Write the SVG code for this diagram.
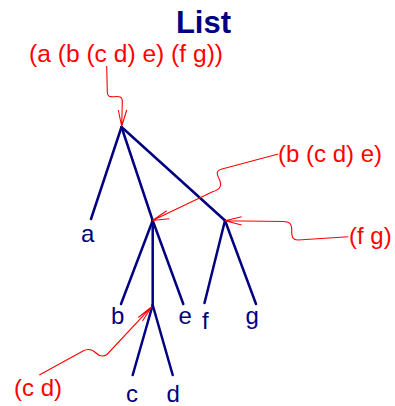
<svg xmlns="http://www.w3.org/2000/svg" width="395" height="406" viewBox="0 0 395 406">
  <style>
    .edge { stroke: #000080; stroke-width: 2.5; fill: none; stroke-linecap: round; }
    .ptr { stroke: #ff0000; stroke-width: 1.1; fill: none; }
    .lbl { font-family: "Liberation Sans", Arial, sans-serif; font-size: 24px; fill: #000080; }
    .red { font-family: "Liberation Sans", Arial, sans-serif; font-size: 24px; fill: #ff0000; }
    .title { font-family: "Liberation Sans", Arial, sans-serif; font-size: 31px; font-weight: bold; fill: #000080; }
  </style>
  <rect width="395" height="406" fill="#ffffff"/>
  <g id="title">
    <text class="title" x="203.5" y="33" text-anchor="middle">List</text>
  </g>
  <g id="connectors">
    <line class="edge" x1="121.5" y1="127" x2="91" y2="219"/>
    <line class="edge" x1="121.5" y1="127" x2="152.7" y2="220.5"/>
    <line class="edge" x1="121.5" y1="127" x2="225" y2="220.5"/>
    <line class="edge" x1="152.7" y1="220.5" x2="121" y2="304"/>
    <line class="edge" x1="152.7" y1="220.5" x2="152.7" y2="305"/>
    <line class="edge" x1="152.7" y1="220.5" x2="183.3" y2="304"/>
    <line class="edge" x1="152.7" y1="305" x2="132.7" y2="375"/>
    <line class="edge" x1="152.7" y1="305" x2="172.7" y2="375"/>
    <line class="edge" x1="225" y1="220.5" x2="204.5" y2="303"/>
    <line class="edge" x1="225" y1="220.5" x2="256" y2="304"/>
    <path class="ptr" d="M106.7,66 L107.3,92 C107.5,97 110,97 114,96.7 C119,96.3 122.5,96 122.3,102 L121.7,126.5 M118.3,110 L121.7,126.5 L126.7,110"/>
    <path class="ptr" d="M278.3,154 L222,169 C214,171 218,176 220,181 C222,187 219,190 212,192 L152.5,220.5 M166.7,210.7 L152.5,220.5 L169.3,218.7"/>
    <path class="ptr" d="M348.3,236.7 L298,240 C292,240 291.7,236 291.7,230 C291.7,223 289,221.7 283,221.5 L225,220.7 M241.7,216.7 L225,220.7 L241.7,225"/>
    <path class="ptr" d="M39.3,375 L83,351 C88,348.5 92,349 96,353 C100,357 103,357 107,354.5 L151.7,306.7 M138.3,317.5 L151.7,306.7 L142.5,321"/>
  </g>
  <g id="node-root-label">
    <text class="red" x="29" y="62" style="font-size:24.6px">(a (b (c d) e) (f g))</text>
  </g>
  <g id="node-bce-label">
    <text class="red" x="278" y="162">(b (c d) e)</text>
  </g>
  <g id="node-fg-label">
    <text class="red" x="349" y="244">(f g)</text>
  </g>
  <g id="node-cd-label">
    <text class="red" x="14" y="396">(c d)</text>
  </g>
  <g id="leaf-a"><text class="lbl" x="81" y="242">a</text></g>
  <g id="leaf-b"><text class="lbl" x="111" y="324">b</text></g>
  <g id="leaf-e"><text class="lbl" x="178.5" y="324">e</text></g>
  <g id="leaf-f"><text class="lbl" x="202" y="329">f</text></g>
  <g id="leaf-g"><text class="lbl" x="245.5" y="324">g</text></g>
  <g id="leaf-c"><text class="lbl" x="126" y="401.5">c</text></g>
  <g id="leaf-d"><text class="lbl" x="166.5" y="401.5">d</text></g>
</svg>
